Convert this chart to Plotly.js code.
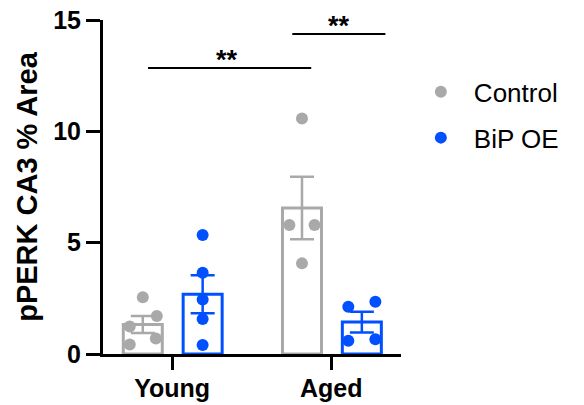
<!DOCTYPE html>
<html>
<head>
<meta charset="utf-8">
<script src="https://cdn.plot.ly/plotly-3.0.1.min.js"></script>
<style>html,body{margin:0;padding:0;background:#fff;}#chart{width:584px;height:405px;}</style>
</head>
<body>
<div id="chart"></div>
<script>
// ---- data ----
const categories = ["Young", "Aged"];
const groupNames = ["Control", "BiP OE"];
const youngControl = [2.55, 1.71, 1.23, 0.70, 0.43];
const youngBiP = [5.34, 3.65, 2.45, 1.57, 0.40];
const agedControl = [10.58, 5.79, 5.79, 4.07];
const agedBiP = [2.12, 2.35, 0.60, 0.66];
const sigLabels = ["**", "**"];

// ---- styling / layout helpers ----
const colors = ["#A9A9A9", "#0050FF"];
const groupOffset = [-0.184, 0.192];
const barWidth = 0.245;
// horizontal spread of the dots (beeswarm style), in category units
const spread = {
  "0-0": [0, 0.088, -0.082, 0.082, -0.082],
  "0-1": [0, 0, 0, 0, 0],
  "1-0": [0, -0.079, 0.079, 0],
  "1-1": [-0.085, 0.085, -0.085, 0.085]
};
const dataByGroup = [[youngControl, agedControl], [youngBiP, agedBiP]];

function mean(a){ return a.reduce((s,v)=>s+v,0)/a.length; }
function sem(a){ const m=mean(a); const v=a.reduce((s,x)=>s+(x-m)*(x-m),0)/(a.length-1); return Math.sqrt(v)/Math.sqrt(a.length); }

const font = "Liberation Sans, Arial, Helvetica, sans-serif";
const traces = [];
for (let g = 0; g < 2; g++) {
  const xs = [], ys = [], es = [];
  categories.forEach((c, i) => { xs.push(i + groupOffset[g]); ys.push(mean(dataByGroup[g][i])); es.push(sem(dataByGroup[g][i])); });
  traces.push({
    type: "bar", x: xs, y: ys, width: barWidth, showlegend: false, hoverinfo: "skip",
    marker: {color: "rgba(255,255,255,0)", line: {color: colors[g], width: 3}},
    error_y: {type: "data", array: es, visible: true, color: colors[g], thickness: 2.5, width: 12}
  });
}
for (let g = 0; g < 2; g++) {
  const xs = [], ys = [];
  categories.forEach((c, i) => {
    const vals = dataByGroup[g][i];
    const sp = spread[i + "-" + g];
    vals.forEach((v, k) => { xs.push(i + groupOffset[g] + sp[k]); ys.push(v); });
  });
  traces.push({
    type: "scatter", mode: "markers", x: xs, y: ys, name: groupNames[g],
    legendgroup: "g" + g,
    marker: {color: colors[g], size: 12}
  });
}

const layout = {
  width: 584, height: 405,
  margin: {l: 103, r: 183, t: 20, b: 51},
  paper_bgcolor: "#fff", plot_bgcolor: "#fff",
  font: {family: font, color: "#000"},
  barmode: "overlay",
  xaxis: {
    range: [-0.434, 1.438], tickvals: [0, 1], ticktext: categories,
    showline: true, linecolor: "#000", linewidth: 3, showgrid: false, zeroline: false,
    ticks: "outside", ticklen: 13, tickwidth: 3, tickcolor: "#000", ticklabelstandoff: -3,
    tickfont: {size: 25, weight: "bold", family: font}
  },
  yaxis: {
    range: [0, 15], tickvals: [0, 5, 10, 15],
    showline: true, linecolor: "#000", linewidth: 3, showgrid: false, zeroline: false,
    ticks: "outside", ticklen: 14, tickwidth: 3, tickcolor: "#000",
    tickfont: {size: 25, weight: "bold", family: font},
    title: {text: "pPERK CA3 % Area", font: {size: 29, weight: "bold", family: font}, standoff: 8}
  },
  legend: {
    x: 1.023, y: 0.855, xanchor: "left", yanchor: "top",
    font: {size: 26, family: font}, traceorder: "grouped", tracegroupgap: 9,
    itemwidth: 56, bgcolor: "rgba(0,0,0,0)"
  },
  shapes: [
    {type: "line", xref: "x", yref: "y", x0: -0.151, x1: 0.874, y0: 12.84, y1: 12.84, line: {color: "#000", width: 2}},
    {type: "line", xref: "x", yref: "y", x0: 0.755, x1: 1.34, y0: 14.37, y1: 14.37, line: {color: "#000", width: 2}}
  ],
  annotations: [
    {x: 0.346, y: 12.84, xref: "x", yref: "y", text: sigLabels[0], showarrow: false, yanchor: "bottom", yshift: -9, font: {size: 27, weight: "bold", family: font}},
    {x: 1.05, y: 14.37, xref: "x", yref: "y", text: sigLabels[1], showarrow: false, yanchor: "bottom", yshift: -9, font: {size: 27, weight: "bold", family: font}}
  ]
};

Plotly.newPlot("chart", traces, layout, {displayModeBar: false, staticPlot: true});
</script>
</body>
</html>
